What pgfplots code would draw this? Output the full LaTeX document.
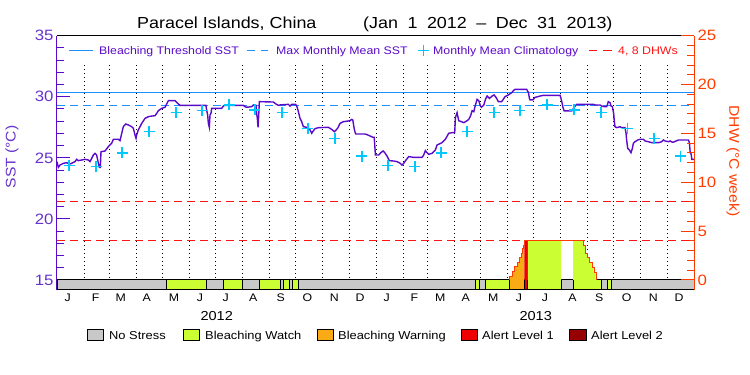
\documentclass[border=0pt]{standalone}
\usepackage{pgfplots}
\pgfplotsset{compat=1.18}
\usepackage{fontspec}
\setmainfont{Liberation Sans}[FakeStretch=1.12]
\definecolor{sstpurple}{RGB}{90,10,200}
\definecolor{axpurple}{RGB}{102,51,204}
\definecolor{thrblue}{RGB}{30,144,255}
\definecolor{climcyan}{RGB}{0,200,255}
\definecolor{dhwred}{RGB}{255,60,0}
\definecolor{dhwdash}{RGB}{255,20,20}
\definecolor{nsgray}{RGB}{200,200,200}
\definecolor{watch}{RGB}{204,255,51}
\definecolor{warn}{RGB}{250,170,20}
\definecolor{alone}{RGB}{238,0,0}
\definecolor{altwo}{RGB}{150,0,0}
\begin{document}
\begin{tikzpicture}
\path[use as bounding box] (0pt,0pt) rectangle (750pt,375pt);
% ---------------- SST axis ----------------
\begin{axis}[
  at={(57pt,85pt)}, anchor=south west,
  width=637pt, height=254.3pt, scale only axis,
  xmin=0, xmax=731, ymin=14.18, ymax=35,
  separate axis lines,
  axis line style={-},
  x axis line style={black, line width=1pt},
  y axis line style={sstpurple, line width=1pt},
  ytick={15,20,25,30,35},
  minor ytick={15,16,...,35},
  ytick pos=left,
  tick align=inside,
  major tick length=13pt, minor tick length=7pt,
  ytick style={sstpurple, line width=1pt},
  yticklabel style={text=axpurple, font=\fontsize{15}{15}\selectfont},
  /pgf/number format/assume math mode=true,
  xtick={12.3,44.4,73.1,103,134.3,164,193.6,225.3,256.7,287.3,318.3,347.7,378.3,410,439.8,469,500.7,530.2,560,591.4,622.3,653.7,684.3,713.8},
  xticklabels={J,F,M,A,M,J,J,A,S,O,N,D,J,F,M,A,M,J,J,A,S,O,N,D},
  xtick style={draw=none},
  xticklabel style={font=\fontsize{11}{11}\selectfont, text=black},
  clip=true,
]
% month separators
\addplot[black, ycomb, mark=none, line width=0.8pt, dash pattern=on 1pt off 3pt] coordinates {
(31,32.6)(60,32.6)(91,32.6)(121,32.6)(152,32.6)(182,32.6)(213,32.6)(244,32.6)(274,32.6)(305,32.6)(335,32.6)
(366,32.6)(397,32.6)(425,32.6)(456,32.6)(486,32.6)(517,32.6)(547,32.6)(578,32.6)(609,32.6)(639,32.6)(670,32.6)(700,32.6)};
% threshold lines
\addplot[thrblue, line width=1pt, mark=none] coordinates {(0,30.32)(731,30.32)};
\addplot[thrblue, line width=1pt, mark=none, dash pattern=on 8pt off 5pt] coordinates {(0,29.32)(731,29.32)};
% SST
\addplot[sstpurple, line width=1.4pt, mark=none] coordinates {
(0,24.69)(1.5,24.22)(3.5,24.41)(7.3,24.55)(11.1,24.60)(14.9,24.50)(16.8,24.55)(20.7,24.69)(22.6,24.88)(24.5,24.77)(28.3,24.82)(32.1,24.88)(36,24.82)(37.9,24.69)(39.8,24.96)(41.7,25.23)(43.6,25.37)(45.5,25.23)(46.7,24.82)(48.6,24.22)(49.7,24.22)(50.5,25.50)(55.1,25.56)(58.9,25.92)(62.7,26.19)(64.7,26.52)(70.4,26.52)(72.3,26.41)(76.1,27.55)(78.8,27.77)(81.9,27.69)(85.7,27.55)(87.6,27.42)(89.5,26.87)(90.7,26.60)(91.4,26.87)(93.3,27.28)(97.2,27.82)(101,28.23)(104.8,28.37)(108.6,28.42)(112.5,28.45)(114.4,28.64)(116.3,28.86)(120.1,29.05)(124,29.14)(125.9,29.41)(127.8,29.68)(135.4,29.68)(139.2,29.41)(141.1,29.30)(170.9,29.30)(171.7,28.92)(172.9,28.51)(173.7,27.82)(174.8,27.50)(175.6,28.51)(176.7,28.64)(177.5,29.05)(189,29.05)(190.9,29.24)(192.8,29.30)(213.8,29.30)(215.7,29.19)(217.6,29.14)(223.4,29.19)(225.3,29.33)(228.4,29.30)(229.1,28.64)(229.9,28.23)(230.7,27.50)(231.4,28.37)(232.2,29.60)(248.2,29.57)(251.2,29.41)(253.9,29.30)(255.9,29.33)(259.7,29.35)(265.5,29.38)(267.4,29.24)(269.3,29.38)(273.9,29.38)(275.4,29.19)(277,28.78)(278.9,28.23)(280.8,27.96)(282.7,27.55)(286.5,27.50)(290.4,27.28)(292.3,27.01)(293.4,27.14)(296.1,27.39)(299.9,27.47)(311.4,27.50)(315.2,27.33)(318.3,27.14)(322.1,27.42)(324.8,27.82)(328.6,27.96)(336.3,28.04)(338.2,28.15)(339.4,28.10)(341.3,27.28)(342.8,26.95)(353.1,26.95)(355.1,26.92)(362.7,26.68)(364,26.68)(364.6,26.05)(365.4,25.23)(369.2,25.23)(371.5,25.42)(374.2,25.56)(376.1,25.42)
(378.7,25.15)(381.4,24.77)(386.3,24.74)(390.2,24.69)(394,24.55)(395.9,24.41)(397.8,24.55)(400.5,24.82)(403.6,25.10)(409.3,25.04)(418.9,25.04)(420.8,25.23)(422.7,25.59)(424.6,25.42)(426.5,25.29)(430.4,25.37)(434.2,25.64)(436.1,26.05)(441.8,26.24)(445.7,26.52)(449.5,27.01)(453.4,27.06)(456.4,27.06)(457.2,28.29)(459.1,28.70)(461,28.04)(464.1,27.96)(466.8,27.88)(470.6,28.04)(472.5,28.15)(474.5,28.42)(476.4,28.86)(478.3,28.78)(480.2,29.33)(482.1,29.79)(484,29.68)(485.9,29.24)(487.1,29.14)(489.8,29.33)(491.7,29.79)(493.6,30.06)(496.3,29.87)(499.4,30.06)(501.5,30.15)(503.8,29.95)(506.5,29.60)(510.3,29.60)(512.2,29.79)(514.1,30.01)(518,30.15)(521.8,30.34)(524.5,30.55)(525.6,30.61)(539,30.61)(541,30.34)(542.1,29.87)(542.9,29.74)(545.9,29.74)(548.6,29.95)(554.4,30.06)(558.2,30.12)(577.4,30.12)(579.3,29.60)(580.4,29.19)(582,28.84)(590.8,28.84)(592.7,29.05)(594.6,29.24)(596.5,29.38)(615.7,29.38)(617.6,29.33)(623.1,29.33)(625,29.24)(628.1,29.19)(630.8,29.19)(632.7,29.60)(634.6,29.52)(635.8,29.24)(637.3,29.19)(638.8,28.64)(639.6,27.96)(640.3,27.55)(642.3,27.47)(646.1,27.55)(648,27.47)(651.8,27.47)(653,27.01)(653.7,26.46)(654.9,25.78)(656.8,25.64)(658.7,25.42)(660.3,25.78)(661.4,26.19)(663.3,26.32)(666.4,26.46)(669.1,26.52)(672.9,26.52)(674.8,26.38)(678.7,26.32)(682.5,26.24)(690.2,26.24)(694,26.32)(695.9,26.46)(697.8,26.38)(701.7,26.32)(703.6,26.38)(706.3,26.27)(708.6,26.32)(711.3,26.41)(713.2,26.46)(724.7,26.46)(725.8,26.19)(726.6,25.42)(727.7,25.31)(728.5,24.88)(731,24.88)};
% climatology
\addplot[only marks, mark=+, mark size=5.5pt, climcyan, line width=1.2pt] coordinates {
(13.8,24.35)(44.8,24.3)(74.6,25.4)(105.6,27.15)(136.6,28.73)(166.4,28.86)(197.4,29.33)(227.2,28.92)(258.2,28.73)(288,27.42)(319,26.6)(350,25.15)
(379.8,24.35)(410.8,24.3)(440.7,25.4)(470.5,27.15)(501.5,28.73)(531.3,28.86)(562.3,29.33)(593.3,28.92)(624.3,28.73)(654.5,27.42)(685.1,26.6)(715.3,25.15)};
% stress status bar
\addplot[fill=nsgray, draw=black, line width=1pt] coordinates {(0,14.18)(0,15)(731,15)(731,14.18)} -- cycle;
\addplot[fill=watch, draw=black, line width=1pt] coordinates {(126.2,14.18)(126.2,15)(171,15)(171,14.18)} -- cycle;
\addplot[fill=watch, draw=black, line width=1pt] coordinates {(190.5,14.18)(190.5,15)(213.4,15)(213.4,14.18)} -- cycle;
\addplot[fill=watch, draw=black, line width=1pt] coordinates {(232.2,14.18)(232.2,15)(256.3,15)(256.3,14.18)} -- cycle;
\addplot[fill=watch, draw=black, line width=1pt] coordinates {(260.1,14.18)(260.1,15)(266.6,15)(266.6,14.18)} -- cycle;
\addplot[fill=watch, draw=black, line width=1pt] coordinates {(270.5,14.18)(270.5,15)(276.9,15)(276.9,14.18)} -- cycle;
\addplot[fill=watch, draw=black, line width=1pt] coordinates {(480.8,14.18)(480.8,15)(484.3,15)(484.3,14.18)} -- cycle;
\addplot[fill=watch, draw=black, line width=1pt] coordinates {(491.2,14.18)(491.2,15)(518.7,15)(518.7,14.18)} -- cycle;
\addplot[fill=warn, draw=black, line width=1pt] coordinates {(518.7,14.18)(518.7,15)(536,15)(536,14.18)} -- cycle;
\addplot[fill=alone, draw=black, line width=1pt] coordinates {(536,14.18)(536,15)(540.4,15)(540.4,14.18)} -- cycle;
\addplot[fill=watch, draw=black, line width=1pt] coordinates {(540.4,14.18)(540.4,15)(578.4,15)(578.4,14.18)} -- cycle;
\addplot[fill=watch, draw=black, line width=1pt] coordinates {(592.4,14.18)(592.4,15)(625.4,15)(625.4,14.18)} -- cycle;
\addplot[fill=watch, draw=black, line width=1pt] coordinates {(631.2,14.18)(631.2,15)(635.8,15)(635.8,14.18)} -- cycle;
\end{axis}
% ---------------- DHW axis ----------------
\begin{axis}[
  at={(57pt,85pt)}, anchor=south west,
  width=637pt, height=254.3pt, scale only axis,
  xmin=0, xmax=731, ymin=-1.025, ymax=25,
  axis x line=none, axis y line*=right,
  axis line style={-},
  y axis line style={dhwred, line width=1pt},
  ytick={0,5,...,25},
  minor ytick={0,1,...,25},
  tick align=inside,
  major tick length=13pt, minor tick length=7pt,
  ytick style={dhwred, line width=1pt},
  yticklabel style={text=dhwred, font=\fontsize{15}{15}\selectfont},
  /pgf/number format/assume math mode=true,
  clip=true,
]
\addplot[dhwdash, line width=1pt, mark=none, dash pattern=on 8pt off 5pt] coordinates {(0,4)(731,4)};
\addplot[dhwdash, line width=1pt, mark=none, dash pattern=on 8pt off 5pt] coordinates {(0,8)(731,8)};
\addplot[const plot, fill=warn, draw=none] coordinates {
(518.7,0.34)(522.5,0.85)(525.2,1.37)(527.9,1.84)(530.2,2.28)(532.5,2.73)(534.4,3.24)(535.6,3.58)(536.3,3.58)} \closedcycle;
\addplot[const plot, fill=alone, draw=none] coordinates {(536.3,4.0)(540.3,4.0)} \closedcycle;
\addplot[const plot, fill=watch, draw=none] coordinates {(540.3,4.0)(578.4,4.0)} \closedcycle;
\addplot[const plot, fill=watch, draw=none] coordinates {
(592.4,4.0)(604.2,3.58)(606.5,2.73)(609,2.28)(611.6,1.77)(614,1.26)(616.6,0.75)(619.3,0.75)} \closedcycle;
\addplot[const plot, dhwred, line width=1pt, mark=none] coordinates {
(518.6,0)(518.7,0.34)(522.5,0.85)(525.2,1.37)(527.9,1.84)(530.2,2.28)(532.5,2.73)(534.4,3.24)(535.6,3.58)(536.3,4.0)(604.2,3.58)(606.5,2.73)(609,2.28)(611.6,1.77)(614,1.26)(616.6,0.75)(619.3,0)};
\end{axis}
% black frame part below the SST range on the left
\draw[black, line width=1pt] (57pt,84.5pt) -- (57pt,95pt);
% ---------------- title and labels ----------------
\node[anchor=base west, inner sep=0pt, font=\fontsize{16}{16}\selectfont] at (137pt,346pt) {Paracel Islands, China};
\node[anchor=base west, inner sep=0pt, font=\fontsize{16}{16}\selectfont] at (363pt,346pt) {\spaceskip=9.5pt (Jan 1 2012 -- Dec 31 2013)};
\node[rotate=90, inner sep=0pt, text=axpurple, font=\fontsize{14}{14}\selectfont] at (12pt,218pt) {SST (°C)};
\node[rotate=-90, inner sep=0pt, text=dhwred, font=\fontsize{14}{14}\selectfont] at (733pt,214pt) {DHW (°C week)};
\node[anchor=base, inner sep=0pt, font=\fontsize{13}{13}\selectfont] at (216.7pt,54.6pt) {2012};
\node[anchor=base, inner sep=0pt, font=\fontsize{13}{13}\selectfont] at (535.7pt,54.6pt) {2013};
% top legend
\draw[thrblue, line width=1pt] (69pt,324pt) -- (93pt,324pt);
\node[anchor=base west, inner sep=0pt, text=sstpurple, font=\fontsize{11}{11}\selectfont] at (99pt,320pt) {Bleaching Threshold SST};
\draw[thrblue, line width=1pt] (247pt,324pt) -- (255pt,324pt) (261pt,324pt) -- (268pt,324pt);
\node[anchor=base west, inner sep=0pt, text=sstpurple, font=\fontsize{11}{11}\selectfont] at (276pt,320pt) {Max Monthly Mean SST};
\draw[climcyan, line width=1pt] (417.5pt,324pt) -- (428.5pt,324pt) (423pt,318.5pt) -- (423pt,329.5pt);
\node[anchor=base west, inner sep=0pt, text=sstpurple, font=\fontsize{11}{11}\selectfont] at (433pt,320pt) {Monthly Mean Climatology};
\draw[dhwdash, line width=1pt] (589pt,324pt) -- (597pt,324pt) (603pt,324pt) -- (612pt,324pt);
\node[anchor=base west, inner sep=0pt, text=dhwdash, font=\fontsize{11}{11}\selectfont] at (618pt,320pt) {4, 8 DHWs};
% bottom legend
\draw[fill=nsgray, line width=0.8pt] (87pt,34.2pt) rectangle (103pt,46pt);
\node[anchor=base west, inner sep=0pt, font=\fontsize{11.5}{11.5}\selectfont] at (109pt,35.9pt) {No Stress};
\draw[fill=watch, line width=0.8pt] (183pt,34.2pt) rectangle (199pt,46pt);
\node[anchor=base west, inner sep=0pt, font=\fontsize{11.5}{11.5}\selectfont] at (205pt,35.9pt) {Bleaching Watch};
\draw[fill=warn, line width=0.8pt] (317pt,34.2pt) rectangle (333pt,46pt);
\node[anchor=base west, inner sep=0pt, font=\fontsize{11.5}{11.5}\selectfont] at (338pt,35.9pt) {Bleaching Warning};
\draw[fill=alone, line width=0.8pt] (461pt,34.2pt) rectangle (477pt,46pt);
\node[anchor=base west, inner sep=0pt, font=\fontsize{11.5}{11.5}\selectfont] at (482pt,35.9pt) {Alert Level 1};
\draw[fill=altwo, line width=0.8pt] (569pt,34.2pt) rectangle (586pt,46pt);
\node[anchor=base west, inner sep=0pt, font=\fontsize{11.5}{11.5}\selectfont] at (591pt,35.9pt) {Alert Level 2};
\end{tikzpicture}
\end{document}
